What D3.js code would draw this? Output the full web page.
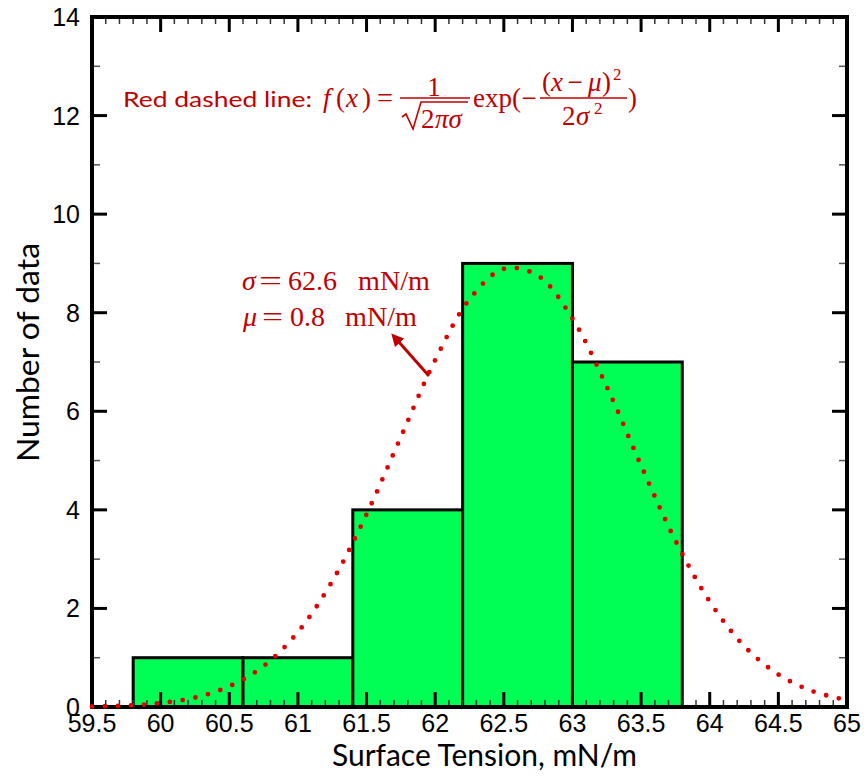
<!DOCTYPE html>
<html>
<head>
<meta charset="utf-8">
<script src="https://cdn.jsdelivr.net/npm/d3@7"></script>
<style>
  body { margin: 0; background: #fff; }
  svg text { fill: #000; }
</style>
</head>
<body>
<div id="chart"></div>
<script>
// histogram bins (lower edge, upper edge, count)
var binLo = [59.8, 60.6, 61.4, 62.2, 63.0],
    binHi = [60.6, 61.4, 62.2, 63.0, 63.8],
    counts = [1, 1, 4, 9, 7];

// red dotted curve, every 0.25
var curveX = [59.5, 59.75, 60, 60.25, 60.5, 60.75, 61, 61.25, 61.5, 61.75, 62, 62.25,
              62.5, 62.75, 63, 63.25, 63.5, 63.75, 64, 64.25, 64.5, 64.75, 65],
    curveY = [0.01, 0.03, 0.08, 0.19, 0.42, 0.83, 1.52, 2.55, 3.91, 5.48, 7.04, 8.27,
              8.89, 8.75, 7.88, 6.50, 4.90, 3.38, 2.14, 1.24, 0.66, 0.32, 0.14];

var xTicks = [59.5, 60, 60.5, 61, 61.5, 62, 62.5, 63, 63.5, 64, 64.5, 65],
    yTicks = [0, 2, 4, 6, 8, 10, 12, 14];

var width = 864, height = 780;

var x = d3.scaleLinear().domain([59.5, 65]).range([92, 847]),
    y = d3.scaleLinear().domain([0, 14]).range([707, 17]);

var svg = d3.select("#chart").append("svg")
    .attr("width", width)
    .attr("height", height);

var red = "#c00000";

var defs = svg.append("defs");
defs.append("marker")
    .attr("id", "arrow")
    .attr("viewBox", "0 0 10 10")
    .attr("refX", 2).attr("refY", 5)
    .attr("markerWidth", 4.2).attr("markerHeight", 4.2)
    .attr("orient", "auto")
    .append("path")
    .attr("d", "M0,0 L10,5 L0,10 z")
    .attr("fill", red);

// bars
svg.selectAll("rect.bar")
    .data(counts)
    .enter().append("rect")
    .attr("class", "bar")
    .attr("x", function(d, i) { return x(binLo[i]); })
    .attr("width", function(d, i) { return x(binHi[i]) - x(binLo[i]); })
    .attr("y", function(d) { return y(d); })
    .attr("height", function(d) { return y(0) - y(d); })
    .attr("fill", "#00ff55")
    .attr("stroke", "#000")
    .attr("stroke-width", 3);

// minor + major ticks, inward on all four sides
var xMinor = d3.range(59.6, 65, 0.1).map(function(v) { return +v.toFixed(1); })
    .filter(function(v) { return Math.abs(v * 2 - Math.round(v * 2)) > 1e-6; });
var yMinor = d3.range(1, 14, 2);

var ticks = svg.append("g");
xMinor.forEach(function(v) {
    ticks.append("line").attr("x1", x(v)).attr("x2", x(v)).attr("y1", y(0)).attr("y2", y(0) - 7)
        .attr("stroke", "#333").attr("stroke-width", 1.5);
    ticks.append("line").attr("x1", x(v)).attr("x2", x(v)).attr("y1", y(14)).attr("y2", y(14) + 7)
        .attr("stroke", "#333").attr("stroke-width", 1.5);
});
xTicks.forEach(function(v) {
    ticks.append("line").attr("x1", x(v)).attr("x2", x(v)).attr("y1", y(0)).attr("y2", y(0) - 15)
        .attr("stroke", "#000").attr("stroke-width", 3);
    ticks.append("line").attr("x1", x(v)).attr("x2", x(v)).attr("y1", y(14)).attr("y2", y(14) + 15)
        .attr("stroke", "#000").attr("stroke-width", 3);
});
yMinor.forEach(function(v) {
    ticks.append("line").attr("x1", x(59.5)).attr("x2", x(59.5) + 8).attr("y1", y(v)).attr("y2", y(v))
        .attr("stroke", "#555").attr("stroke-width", 1.5);
    ticks.append("line").attr("x1", x(65)).attr("x2", x(65) - 8).attr("y1", y(v)).attr("y2", y(v))
        .attr("stroke", "#555").attr("stroke-width", 1.5);
});
yTicks.forEach(function(v) {
    ticks.append("line").attr("x1", x(59.5)).attr("x2", x(59.5) + 15).attr("y1", y(v)).attr("y2", y(v))
        .attr("stroke", "#000").attr("stroke-width", 3);
    ticks.append("line").attr("x1", x(65)).attr("x2", x(65) - 15).attr("y1", y(v)).attr("y2", y(v))
        .attr("stroke", "#000").attr("stroke-width", 3);
});

// frame
svg.append("rect")
    .attr("x", x(59.5)).attr("y", y(14))
    .attr("width", x(65) - x(59.5)).attr("height", y(0) - y(14))
    .attr("fill", "none").attr("stroke", "#000").attr("stroke-width", 4);

// dotted gaussian
var line = d3.line()
    .x(function(d, i) { return x(curveX[i]); })
    .y(function(d) { return y(d); })
    .curve(d3.curveCatmullRom);

svg.append("path")
    .attr("d", line(curveY))
    .attr("fill", "none")
    .attr("stroke", "#e00000")
    .attr("stroke-width", 4.8)
    .attr("stroke-linecap", "round")
    .attr("stroke-dasharray", "0 13");

// tick labels
svg.selectAll("text.xt")
    .data(xTicks)
    .enter().append("text")
    .attr("class", "xt")
    .attr("x", function(d) { return x(d); })
    .attr("y", 732)
    .attr("text-anchor", "middle")
    .style("font-family", "Liberation Sans, Arial, sans-serif")
    .style("font-size", "25px")
    .text(function(d) { return d; });

svg.selectAll("text.yt")
    .data(yTicks)
    .enter().append("text")
    .attr("class", "yt")
    .attr("x", 80)
    .attr("y", function(d) { return y(d) + 9; })
    .attr("text-anchor", "end")
    .style("font-family", "Liberation Sans, Arial, sans-serif")
    .style("font-size", "25px")
    .text(function(d) { return d; });

// axis titles
svg.append("text")
    .attr("x", 332).attr("y", 766)
    .attr("textLength", 305).attr("lengthAdjust", "spacingAndGlyphs")
    .style("font-family", "Lato, 'Open Sans', sans-serif")
    .style("font-size", "30px")
    .text("Surface Tension, mN/m");

svg.append("text")
    .attr("transform", "translate(39,462) rotate(-90)")
    .attr("textLength", 219).attr("lengthAdjust", "spacingAndGlyphs")
    .style("font-family", "Lato, 'Open Sans', sans-serif")
    .style("font-size", "30px")
    .text("Number of data");

// formula annotation
var ann = svg.append("g");
ann.append("text")
    .attr("x", 123).attr("y", 107)
    .attr("textLength", 189).attr("lengthAdjust", "spacingAndGlyphs")
    .style("font-family", "Lato, 'Open Sans', sans-serif")
    .style("font-size", "22px").style("fill", red)
    .text("Red dashed line:");

var serif = "Liberation Serif, 'Times New Roman', serif";
function mt(xp, yp, txt, size, anchor, italic) {
    return ann.append("text")
        .attr("x", xp).attr("y", yp)
        .attr("text-anchor", anchor || "start")
        .style("font-family", serif)
        .style("font-size", (size || 27) + "px")
        .style("font-style", italic ? "italic" : "normal")
        .style("fill", red)
        .text(txt);
}
function bar(x1, x2, yy) {
    ann.append("line").attr("x1", x1).attr("x2", x2).attr("y1", yy).attr("y2", yy)
        .attr("stroke", red).attr("stroke-width", 1.6);
}

mt(323, 107, "f", 27, "start", true);
mt(336, 107, "(");
mt(346, 107, "x", 27, "start", true);
mt(362, 107, ")");
mt(377, 107, "=").attr("textLength", 16).attr("lengthAdjust", "spacingAndGlyphs");

mt(434, 96, "1", 27, "middle");
bar(400, 470, 98);
ann.append("path")
    .attr("d", "M402,117 L406,114 L413,129 L421,102 L468,102")
    .attr("fill", "none").attr("stroke", red).attr("stroke-width", 1.6);
mt(421, 128, "2");
mt(435, 128, "πσ", 27, "start", true);

mt(473, 107, "exp(");
mt(529, 107, "\u2212", 27, "middle");

mt(542, 91, "(");
mt(551, 91, "x", 27, "start", true);
mt(575, 91, "\u2212", 27, "middle");
mt(588, 91, "μ", 27, "start", true);
mt(602, 91, ")");
mt(613, 80, "2", 17);
bar(540, 627, 98);
mt(562, 125, "2");
mt(576, 125, "σ", 27, "start", true);
mt(594, 114, "2", 17);
mt(628, 107, ")");

// sigma / mu labels
mt(242, 290, "σ", 28, "start", true);
mt(259, 290, "=", 28).attr("textLength", 23).attr("lengthAdjust", "spacingAndGlyphs");
mt(288, 290, "62.6", 28);
mt(358, 290, "mN/m", 28).attr("textLength", 72).attr("lengthAdjust", "spacingAndGlyphs");
mt(243, 326, "μ", 28, "start", true);
mt(262, 326, "=", 28).attr("textLength", 21).attr("lengthAdjust", "spacingAndGlyphs");
mt(290, 326, "0.8", 28);
mt(345, 326, "mN/m", 28).attr("textLength", 72).attr("lengthAdjust", "spacingAndGlyphs");

// arrow
svg.append("line")
    .attr("x1", 429).attr("y1", 376)
    .attr("x2", 398).attr("y2", 341)
    .attr("stroke", red).attr("stroke-width", 3)
    .attr("marker-end", "url(#arrow)");
</script>
</body>
</html>
